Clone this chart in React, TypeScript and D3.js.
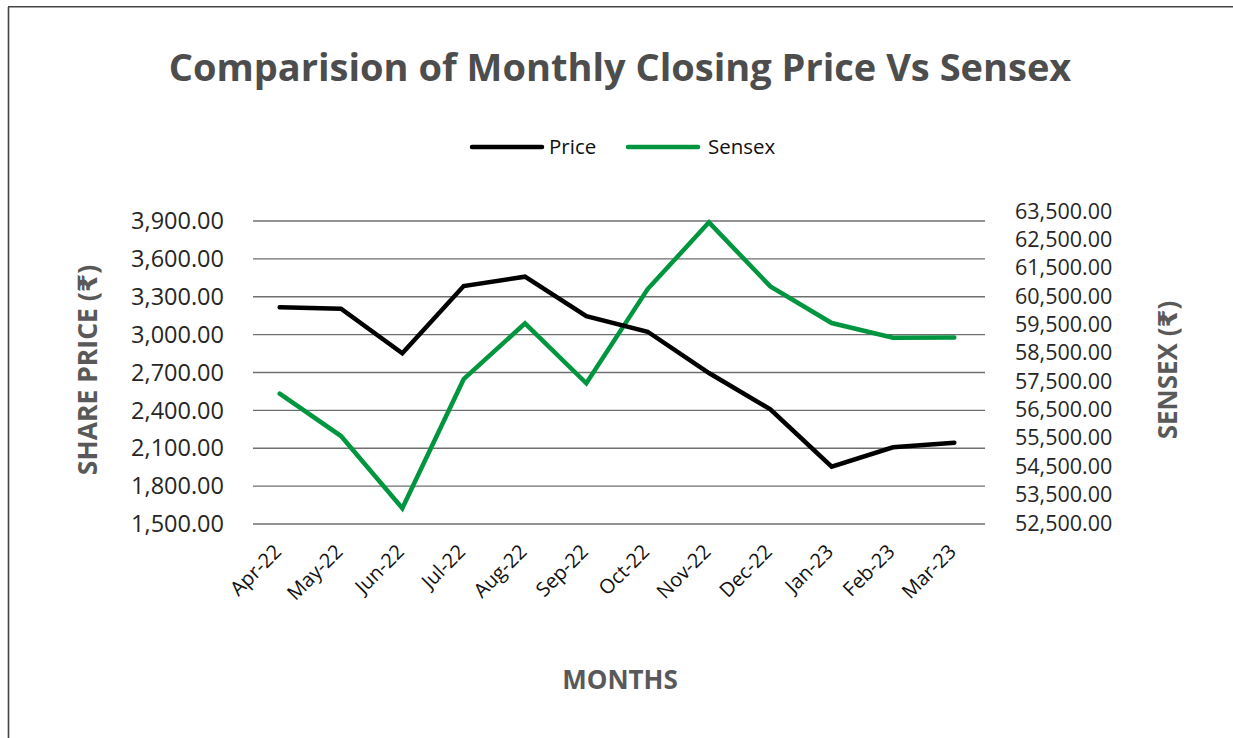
import React from "react";
import * as d3 from "d3";

const months = ["Apr-22","May-22","Jun-22","Jul-22","Aug-22","Sep-22","Oct-22","Nov-22","Dec-22","Jan-23","Feb-23","Mar-23"];
const price = [3216, 3205, 2852, 3385, 3459, 3147, 3023, 2696, 2408, 1954, 2108, 2144];
const sensex = [57060, 55566, 53019, 57570, 59537, 57427, 60747, 63100, 60841, 59550, 59030, 59040];
const leftTicks = [1500, 1800, 2100, 2400, 2700, 3000, 3300, 3600, 3900];
const rightTicks = [52500, 53500, 54500, 55500, 56500, 57500, 58500, 59500, 60500, 61500, 62500, 63500];

const W = 1233, H = 738;
const FONT = "'Open Sans', 'DejaVu Sans', sans-serif";

export default function App() {
  const x = d3.scalePoint<string>().domain(months).range([249, 985]).padding(0.5);
  const yL = d3.scaleLinear().domain([1500, 3900]).range([524, 221]);
  const yR = d3.scaleLinear().domain([52500, 63500]).range([523, 211]);
  const fmt = d3.format(",.2f");
  const lineP = d3.line<number>().x((_, i) => x(months[i])!).y((d) => yL(d));
  const lineS = d3.line<number>().x((_, i) => x(months[i])!).y((d) => yR(d));
  const green = "#00963f";

  return (
    <svg width={W} height={H} style={{ position: "absolute", left: 0, top: 0, background: "#fff" }} fontFamily={FONT}>
      <rect x={0} y={0} width={W} height={H} fill="#fff" />
      <line x1={8.5} y1={7} x2={8.5} y2={H} stroke="#444" strokeWidth={1.6} />
      <line x1={8} y1={6.8} x2={W} y2={6.8} stroke="#444" strokeWidth={1.6} />

      <text x={620} y={81} textAnchor="middle" fontSize={38} fontWeight={700} fill="#4d4d4d">
        Comparision of Monthly Closing Price Vs Sensex
      </text>

      {/* legend */}
      <line x1={472} y1={147} x2={542} y2={147} stroke="#000" strokeWidth={4.5} strokeLinecap="round" />
      <text x={549} y={147} dy="0.35em" fontSize={20.5} fill="#111">Price</text>
      <line x1={628} y1={147} x2={698} y2={147} stroke={green} strokeWidth={4.5} strokeLinecap="round" />
      <text x={708} y={147} dy="0.35em" fontSize={20.5} fill="#111">Sensex</text>

      {/* grid */}
      {leftTicks.map((t) => (
        <line key={t} x1={253} x2={985} y1={yL(t)} y2={yL(t)} stroke="#6f6f6f" strokeWidth={1.4} />
      ))}
      {leftTicks.map((t) => (
        <text key={"l" + t} x={224} y={yL(t)} dy="0.35em" textAnchor="end" fontSize={23.5} fill="#262626">
          {fmt(t)}
        </text>
      ))}
      {rightTicks.map((t) => (
        <text key={"r" + t} x={1015} y={yR(t)} dy="0.35em" textAnchor="start" fontSize={21.5} fill="#262626">
          {fmt(t)}
        </text>
      ))}

      {/* x labels */}
      {months.map((m) => (
        <text key={m} transform={`translate(${x(m)! + 3},${553}) rotate(-45)`} textAnchor="end" fontSize={20} fill="#111">
          {m}
        </text>
      ))}

      {/* lines */}
      <path d={lineS(sensex)!} fill="none" stroke={green} strokeWidth={4.5} strokeLinejoin="miter" strokeLinecap="round" />
      <path d={lineP(price)!} fill="none" stroke="#000" strokeWidth={4.5} strokeLinejoin="miter" strokeLinecap="round" />

      {/* axis titles */}
      <text transform="translate(97,370) rotate(-90)" textAnchor="middle" fontSize={26.5} fontWeight={700} fill="#595959">
        SHARE PRICE (₹)
      </text>
      <text transform="translate(1177,370) rotate(-90)" textAnchor="middle" fontSize={26} fontWeight={700} fill="#595959">
        SENSEX (₹)
      </text>
      <text x={620} y={689} textAnchor="middle" fontSize={26} fontWeight={700} fill="#595959">
        MONTHS
      </text>
    </svg>
  );
}
